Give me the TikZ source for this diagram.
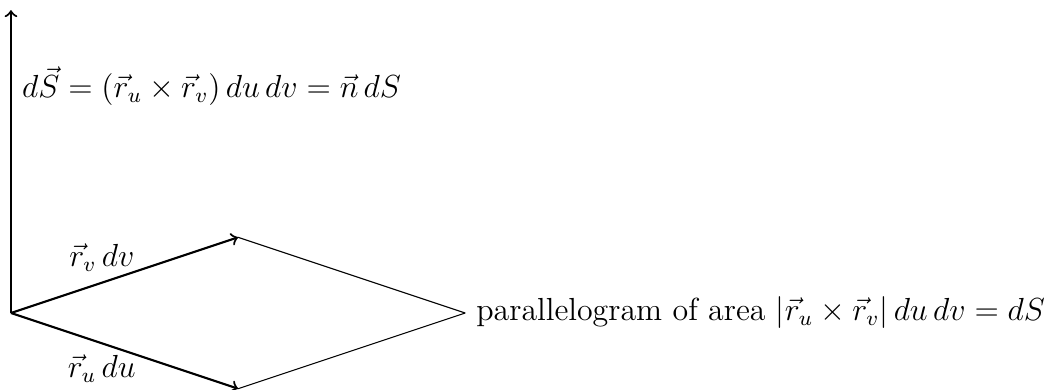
\documentclass[12pt,tikz,border=0pt]{standalone}
\begin{document}
\begin{tikzpicture}[x=1cm,y=1cm,
  vec/.style={->,thick},
  side/.style={thin}]
\useasboundingbox (-0.145,-1.017) rectangle (13.66,4.135);
\coordinate (O) at (0,0);
\coordinate (N) at (0,4);
\coordinate (V) at (3,1);
\coordinate (U) at (3,-1);
\coordinate (W) at (6,0);
\draw[vec] (O) -- (N);
\node[anchor=west] (nlab) at (0,3) {$d\vec S = (\vec r_u \times \vec r_v)\,du\,dv = \vec n\,dS$};
\draw[vec] (O) -- node[pos=0.4,above] (vlab) {$\vec r_v\,dv$} (V);
\draw[vec] (O) -- node[pos=0.4,below] (ulab) {$\vec r_u\,du$} (U);
\draw[side] (V) -- (W);
\draw[side] (U) -- (W);
\node[right] (plab) at (W) {parallelogram of area $|\vec r_u\times\vec r_v|\,du\,dv = dS$};
\end{tikzpicture}
\end{document}
